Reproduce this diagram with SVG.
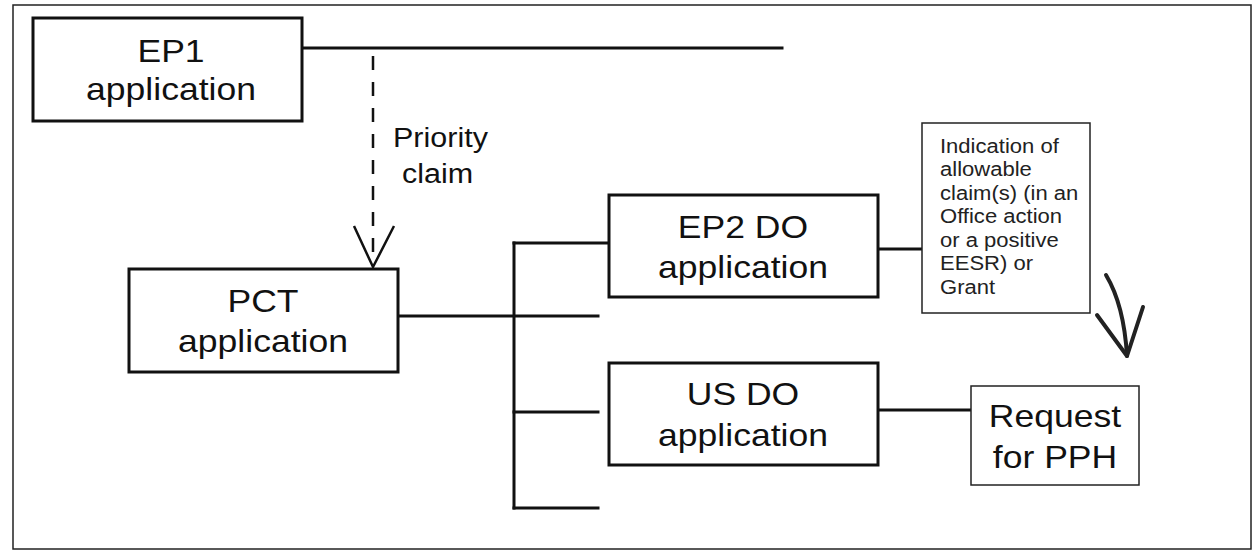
<svg xmlns="http://www.w3.org/2000/svg" width="1254" height="557" viewBox="0 0 1254 557">
<style>
.frame{fill:none;stroke:#222;stroke-width:1.5}
.box{fill:#fff;stroke:#111;stroke-width:3}
.tbox{fill:#fff;stroke:#222;stroke-width:1.5}
.ln{fill:none;stroke:#111;stroke-width:3;stroke-linecap:square}
.big{font-family:"Liberation Sans",Arial,sans-serif;font-size:32px;fill:#111;text-anchor:middle}
.mid{font-family:"Liberation Sans",Arial,sans-serif;font-size:27px;fill:#111}
.small{font-family:"Liberation Sans",Arial,sans-serif;font-size:19.5px;fill:#222}
</style>
<rect width="1254" height="557" fill="#fff"/>
<rect class="frame" x="13" y="5" width="1238" height="544"/>
<g id="connectors">
  <line class="ln" x1="302" y1="48" x2="782" y2="48"/>
  <line x1="373" y1="56" x2="373" y2="266" stroke="#111" stroke-width="2.5" stroke-dasharray="14 12"/>
  <polyline points="354,226 373,267 394,226" fill="none" stroke="#111" stroke-width="2.5"/>
  <g transform="translate(393,147) scale(1.13,1)"><text class="mid" x="0" y="0">Priority</text></g>
  <g transform="translate(402,183) scale(1.13,1)"><text class="mid" x="0" y="0">claim</text></g>
  <line class="ln" x1="398" y1="316" x2="598" y2="316"/>
  <line class="ln" x1="514" y1="243" x2="514" y2="508"/>
  <line class="ln" x1="514" y1="243" x2="607" y2="243"/>
  <line class="ln" x1="514" y1="412" x2="598" y2="412"/>
  <line class="ln" x1="514" y1="508" x2="598" y2="508"/>
  <line class="ln" x1="878" y1="249" x2="921" y2="249"/>
  <line class="ln" x1="878" y1="410" x2="970" y2="410"/>
  <path d="M1106,275 Q1124,305 1127,356" fill="none" stroke="#222" stroke-width="4" stroke-linecap="round"/>
  <polyline points="1097,315 1127,356 1143,307" fill="none" stroke="#222" stroke-width="4" stroke-linecap="round" stroke-linejoin="round"/>
</g>
<g id="ep1">
  <rect class="box" x="33" y="18" width="269" height="103"/>
  <g transform="translate(171,62) scale(1.11,1)"><text class="big" x="0" y="0">EP1</text></g>
  <g transform="translate(171,100) scale(1.11,1)"><text class="big" x="0" y="0">application</text></g>
</g>
<g id="pct">
  <rect class="box" x="129" y="269" width="269" height="103"/>
  <g transform="translate(263,312) scale(1.11,1)"><text class="big" x="0" y="0">PCT</text></g>
  <g transform="translate(263,352) scale(1.11,1)"><text class="big" x="0" y="0">application</text></g>
</g>
<g id="ep2">
  <rect class="box" x="609" y="195" width="269" height="102"/>
  <g transform="translate(743,238) scale(1.11,1)"><text class="big" x="0" y="0">EP2 DO</text></g>
  <g transform="translate(743,278) scale(1.11,1)"><text class="big" x="0" y="0">application</text></g>
</g>
<g id="us">
  <rect class="box" x="609" y="363" width="269" height="102"/>
  <g transform="translate(743,405) scale(1.11,1)"><text class="big" x="0" y="0">US DO</text></g>
  <g transform="translate(743,446) scale(1.11,1)"><text class="big" x="0" y="0">application</text></g>
</g>
<g id="indication">
  <rect class="tbox" x="922" y="123" width="168" height="190"/>
  <g transform="translate(940,0) scale(1.13,1)">
    <text class="small" x="0" y="153">Indication of</text>
    <text class="small" x="0" y="176.5">allowable</text>
    <text class="small" x="0" y="200">claim(s) (in an</text>
    <text class="small" x="0" y="223.5">Office action</text>
    <text class="small" x="0" y="247">or a positive</text>
    <text class="small" x="0" y="270.5">EESR) or</text>
    <text class="small" x="0" y="294">Grant</text>
  </g>
</g>
<g id="request">
  <rect class="tbox" x="971" y="386" width="168" height="99"/>
  <g transform="translate(1055,427) scale(1.11,1)"><text class="big" x="0" y="0">Request</text></g>
  <g transform="translate(1055,468) scale(1.11,1)"><text class="big" x="0" y="0">for PPH</text></g>
</g>
</svg>
